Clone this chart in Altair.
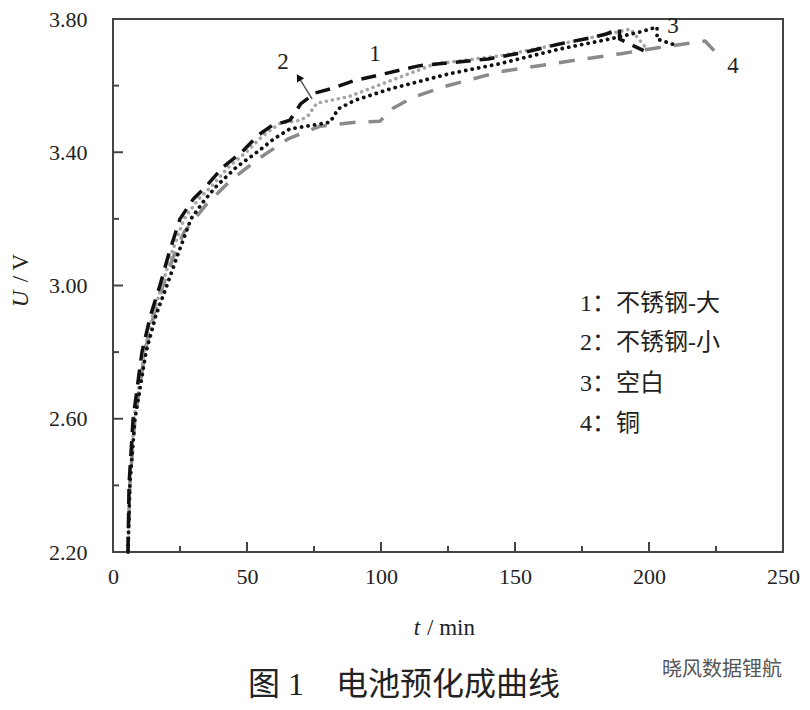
import altair as alt
import pandas as pd

# ---- data ----
t1 = [5.6, 6.0, 7.5, 10.8, 14.0, 17.5, 21.0, 25, 30, 35, 41, 48, 54, 59.3, 66, 68, 70, 75.4, 81, 90, 101.5, 114.5, 140, 153.5, 166.5, 179, 184, 189, 189, 198]
u1 = [2.20, 2.405, 2.60, 2.80, 2.91, 3.00, 3.10, 3.20, 3.26, 3.30, 3.355, 3.40, 3.45, 3.48, 3.496, 3.52, 3.545, 3.578, 3.59, 3.615, 3.636, 3.66, 3.68, 3.70, 3.725, 3.745, 3.755, 3.77, 3.74, 3.705]

t2 = [5.6, 6.3, 7.8, 11.6, 14.8, 18.3, 22.0, 26.5, 32, 37, 43, 49.6, 56, 62.3, 70, 72.8, 76, 88.4, 100.7, 120, 145, 170, 185, 193, 198.5]
u2 = [2.20, 2.405, 2.60, 2.80, 2.91, 3.00, 3.10, 3.20, 3.26, 3.30, 3.355, 3.40, 3.45, 3.487, 3.496, 3.51, 3.547, 3.568, 3.606, 3.665, 3.69, 3.73, 3.755, 3.77, 3.717]

t3 = [5.6, 6.3, 8.2, 12.3, 16.0, 20.1, 24.5, 29.1, 34, 38.8, 46, 53.7, 60, 66, 73.5, 81, 84, 90.3, 103.4, 125.7, 144.4, 166.8, 185.4, 196.6, 203, 203, 210.4]
u3 = [2.20, 2.405, 2.60, 2.80, 2.91, 3.00, 3.10, 3.20, 3.255, 3.30, 3.355, 3.40, 3.44, 3.47, 3.48, 3.49, 3.53, 3.556, 3.59, 3.636, 3.666, 3.71, 3.74, 3.761, 3.776, 3.74, 3.72]

t4 = [5.6, 6.3, 8.2, 11.9, 15.2, 18.7, 22.5, 26.5, 35, 43.7, 53.7, 65.3, 77.2, 90.7, 99.6, 104.5, 112, 123.5, 144.4, 175.7, 189.6, 203.4, 220.9, 227.2]
u4 = [2.20, 2.405, 2.60, 2.80, 2.91, 3.00, 3.085, 3.16, 3.245, 3.314, 3.377, 3.44, 3.478, 3.49, 3.493, 3.532, 3.565, 3.597, 3.642, 3.68, 3.696, 3.714, 3.734, 3.68]

legend_lines = ["1：不锈钢-大", "2：不锈钢-小", "3：空白", "4：铜"]
legend_t = [174.3, 174.3, 174.3, 174.3]
legend_u = [2.945, 2.826, 2.704, 2.585]

curve_labels = ["1", "2", "3", "4"]
curve_label_t = [97.8, 63.4, 209.0, 231.3]
curve_label_u = [3.696, 3.672, 3.779, 3.66]

arrow_t = [74.3, 69.3]
arrow_u = [3.56, 3.625]

x_major = [0, 50, 100, 150, 200, 250]
x_minor = [25, 75, 125, 175, 225]
y_major = [2.2, 2.6, 3.0, 3.4, 3.8]
y_minor = [2.4, 2.8, 3.2, 3.6]

x_title_var, x_title_unit = "t", "/ min"
y_title_var, y_title_unit = "U", "/ V"
title_text = "图 1　电池预化成曲线"
watermark = "晓风数据锂航"

SERIF = "Liberation Serif, Noto Sans CJK SC"
TOP = 11
W, H = 670, 533

xs = alt.Scale(domain=[0, 250], nice=False, zero=False)
ys = alt.Scale(domain=[2.2, 3.8], nice=False, zero=False)

X_AX = alt.Axis(values=x_major, format="d", labelPadding=14, labelFlush=False)
Y_AX = alt.Axis(values=y_major, format=".2f", labelPadding=26, labelFlush=False)


def series(t, u):
    return pd.DataFrame({"t": t, "U": u, "o": list(range(len(t)))})


def line_layer(df, color, dash, width, cap="butt"):
    x = alt.X("t:Q", scale=xs, title="", axis=X_AX)
    y = alt.Y("U:Q", scale=ys, title="", axis=Y_AX)
    return alt.Chart(df).mark_line(color=color, strokeDash=dash, strokeWidth=width,
                                   strokeCap=cap, strokeJoin="round").encode(x=x, y=y, order="o:Q")


l1 = line_layer(series(t1, u1), "#111111", [15, 9], 3.5)
l2 = line_layer(series(t2, u2), "#a6a6a6", [0.1, 6], 3.6, cap="round")
l3 = line_layer(series(t3, u3), "#111111", [0.1, 6.5], 3.8, cap="round")
l4 = line_layer(series(t4, u4), "#8a8a8a", [16, 13], 3.5)

# inward ticks
ytick_major = alt.Chart(pd.DataFrame({"U": y_major})).mark_rule(color="#444", strokeWidth=2).encode(
    y=alt.Y("U:Q", scale=ys), x=alt.value(0), x2=alt.value(10))
ytick_minor = alt.Chart(pd.DataFrame({"U": y_minor})).mark_rule(color="#444", strokeWidth=2).encode(
    y=alt.Y("U:Q", scale=ys), x=alt.value(0), x2=alt.value(6))
xtick_major = alt.Chart(pd.DataFrame({"t": x_major})).mark_rule(color="#444", strokeWidth=2).encode(
    x=alt.X("t:Q", scale=xs), y=alt.value(H), y2=alt.value(H - 10))
xtick_minor = alt.Chart(pd.DataFrame({"t": x_minor})).mark_rule(color="#444", strokeWidth=2).encode(
    x=alt.X("t:Q", scale=xs), y=alt.value(H), y2=alt.value(H - 6))

# arrow for label 2
arrow_df = pd.DataFrame({"t": [arrow_t[0]], "U": [arrow_u[0]], "t2": [arrow_t[1]], "U2": [arrow_u[1]]})
arrow_line = alt.Chart(arrow_df).mark_rule(color="#555", strokeWidth=1.5).encode(
    x=alt.X("t:Q", scale=xs), y=alt.Y("U:Q", scale=ys), x2="t2:Q", y2="U2:Q")
arrow_head = alt.Chart(pd.DataFrame({"t": [arrow_t[1]], "U": [arrow_u[1]]})).mark_point(
    shape="triangle-up", filled=True, color="#111", size=70, angle=328, opacity=1).encode(
    x=alt.X("t:Q", scale=xs), y=alt.Y("U:Q", scale=ys))

labels = alt.Chart(pd.DataFrame({"t": curve_label_t, "U": curve_label_u, "s": curve_labels})).mark_text(
    font=SERIF, fontSize=23, color="#222", align="center", baseline="middle").encode(
    x=alt.X("t:Q", scale=xs), y=alt.Y("U:Q", scale=ys), text="s:N")

legend = alt.Chart(pd.DataFrame({"t": legend_t, "U": legend_u, "s": legend_lines})).mark_text(
    font=SERIF, fontSize=24, color="#222", align="left", baseline="middle").encode(
    x=alt.X("t:Q", scale=xs), y=alt.Y("U:Q", scale=ys), text="s:N")

# axis titles with italic variable
xt_var = alt.Chart(pd.DataFrame({"s": [x_title_var]})).mark_text(
    font=SERIF, fontSize=23, fontStyle="italic", color="#222", align="center", baseline="middle").encode(
    x=alt.value(304), y=alt.value(628 - 8 - TOP), text="s:N")
xt_unit = alt.Chart(pd.DataFrame({"s": [x_title_unit]})).mark_text(
    font=SERIF, fontSize=23, color="#222", align="left", baseline="middle").encode(
    x=alt.value(314), y=alt.value(628 - 8 - TOP), text="s:N")
yt_var = alt.Chart(pd.DataFrame({"s": [y_title_var]})).mark_text(
    font=SERIF, fontSize=23, fontStyle="italic", color="#222", align="center", baseline="middle",
    angle=270).encode(x=alt.value(-92.5), y=alt.value(299 - 8 - TOP), text="s:N")
yt_unit = alt.Chart(pd.DataFrame({"s": [y_title_unit]})).mark_text(
    font=SERIF, fontSize=23, color="#222", align="center", baseline="middle",
    angle=270).encode(x=alt.value(-92.5), y=alt.value(268 - 8 - TOP), text="s:N")

title = alt.Chart(pd.DataFrame({"s": [title_text]})).mark_text(
    font=SERIF, fontSize=32, color="#222", align="center", baseline="middle").encode(
    x=alt.value(291), y=alt.value(685 - 8 - TOP), text="s:N")

wm = alt.Chart(pd.DataFrame({"s": [watermark]})).mark_text(
    font="Noto Sans CJK SC", fontSize=20, color="#555", align="left", baseline="middle").encode(
    x=alt.value(549), y=alt.value(670 - 8 - TOP), text="s:N")

chart = alt.layer(
    l4, l2, l3, l1,
    ytick_major, ytick_minor, xtick_major, xtick_minor,
    arrow_line, arrow_head, labels, legend,
    xt_var, xt_unit, yt_var, yt_unit, title, wm,
).properties(
    width=W, height=H,
    autosize=alt.AutoSizeParams(type="none"),
    padding={"left": 105, "top": TOP, "right": 19, "bottom": 150},
).configure_view(
    stroke="#444", strokeWidth=2,
).configure_axis(
    labelFont=SERIF, labelFontSize=22, labelColor="#222",
    ticks=False, domain=False, grid=False,
)

chart.save("out.html", embed_options={"renderer": "svg", "actions": False})
